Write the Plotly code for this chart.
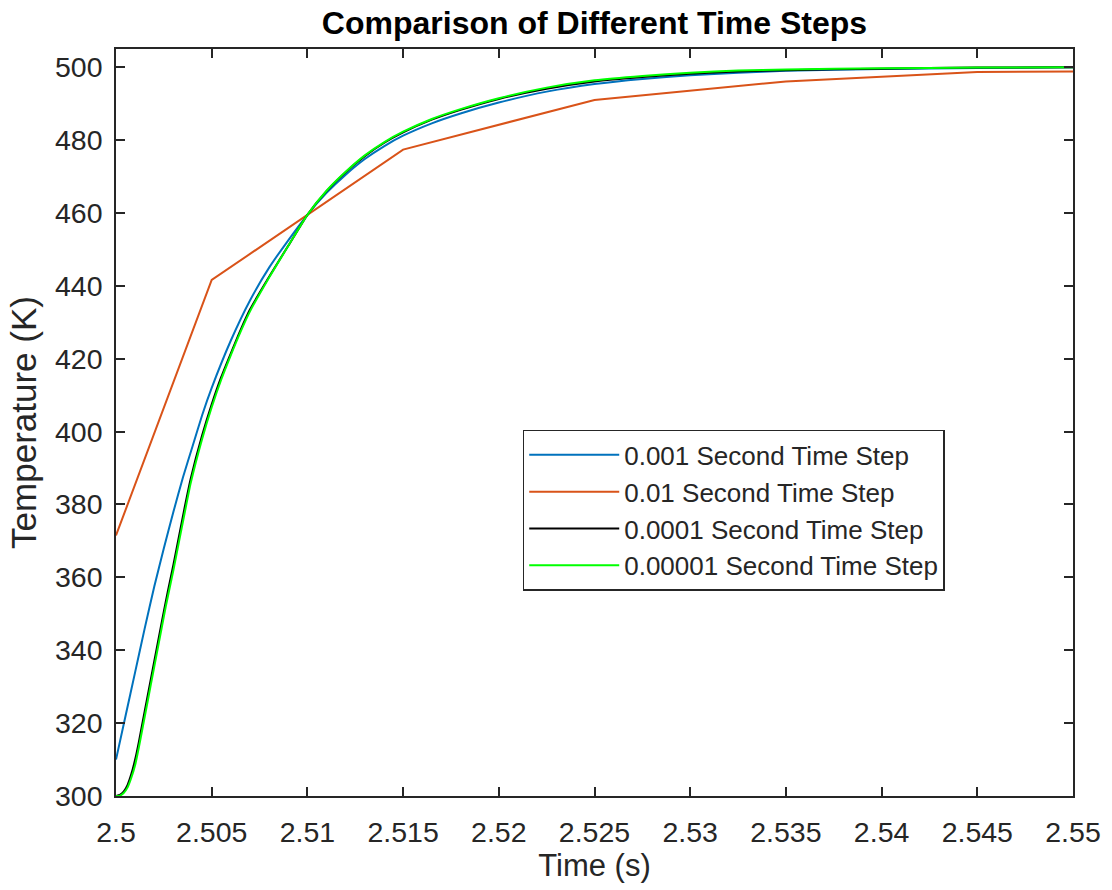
import plotly.graph_objects as go

# ---- data ----
t_001 = [2.5000, 2.5005, 2.5010, 2.5015, 2.5020, 2.5025, 2.5030, 2.5035, 2.5040, 2.5045,
         2.5050, 2.5060, 2.5070, 2.5080, 2.5090, 2.5100, 2.5110, 2.5120, 2.5130, 2.5140,
         2.5150, 2.5165, 2.5180, 2.5200, 2.5225, 2.5250, 2.5275, 2.5300, 2.5325, 2.5350,
         2.5400, 2.5450, 2.5500]
T_001 = [310.0, 322.0, 334.0, 346.0, 357.5, 368.0, 378.0, 387.5, 396.0, 404.5,
         412.0, 425.0, 436.0, 445.0, 452.5, 459.5, 465.5, 470.5, 474.8, 478.3,
         481.2, 484.6, 487.3, 490.3, 493.3, 495.4, 496.8, 497.8, 498.5, 499.0,
         499.5, 499.8, 500.0]

t_01 = [2.500, 2.505, 2.515, 2.525, 2.535, 2.545, 2.550]
T_01 = [371.5, 441.6, 477.4, 491.0, 496.1, 498.7, 498.8]

t_0001 = [2.5000, 2.5002, 2.5004, 2.5006, 2.5008, 2.5010, 2.5012, 2.5014, 2.5016, 2.5018,
          2.5020, 2.5022, 2.5024, 2.5026, 2.5028, 2.5030, 2.5033, 2.5036, 2.5039, 2.5045,
          2.5050, 2.5055, 2.5060, 2.5065, 2.5070, 2.5080, 2.5090, 2.5100, 2.5110, 2.5120,
          2.5130, 2.5140, 2.5150, 2.5165, 2.5180, 2.5200, 2.5225, 2.5250, 2.5275, 2.5300,
          2.5325, 2.5350, 2.5400, 2.5450, 2.5500]
T_0001 = [300.0, 300.3, 301.2, 303.0, 306.0, 310.0, 315.0, 320.5, 326.0, 331.5,
          337.0, 342.5, 348.0, 353.3, 358.5, 363.5, 371.5, 379.5, 387.0, 399.0,
          407.5, 415.0, 421.5, 427.8, 433.5, 442.5, 451.0, 459.5, 466.0, 471.2,
          475.6, 479.2, 482.1, 485.6, 488.3, 491.3, 494.1, 496.1, 497.3, 498.2,
          498.8, 499.2, 499.6, 499.9, 500.0]

t_00001 = [2.5000, 2.5002, 2.5004, 2.5006, 2.5008, 2.5010, 2.5012, 2.5014, 2.5016, 2.5018,
           2.5020, 2.5022, 2.5024, 2.5026, 2.5028, 2.5030, 2.5033, 2.5036, 2.5039, 2.5045,
           2.5050, 2.5055, 2.5060, 2.5065, 2.5070, 2.5080, 2.5090, 2.5100, 2.5110, 2.5120,
           2.5130, 2.5140, 2.5150, 2.5165, 2.5180, 2.5200, 2.5225, 2.5250, 2.5275, 2.5300,
           2.5325, 2.5350, 2.5400, 2.5450, 2.5500]
T_00001 = [300.0, 300.1, 300.8, 302.3, 305.0, 308.5, 313.5, 319.0, 324.5, 330.0,
           335.5, 341.0, 346.5, 352.0, 357.0, 362.0, 370.0, 378.0, 385.8, 398.0,
           406.7, 414.3, 421.0, 427.3, 433.0, 442.3, 451.0, 459.5, 466.1, 471.3,
           475.8, 479.4, 482.3, 485.8, 488.5, 491.5, 494.4, 496.4, 497.6, 498.5,
           499.1, 499.4, 499.7, 499.9, 500.0]

series = [
    ("0.001 Second Time Step", t_001, T_001, "#0072BD", "spline"),
    ("0.01 Second Time Step", t_01, T_01, "#D95319", "linear"),
    ("0.0001 Second Time Step", t_0001, T_0001, "#000000", "spline"),
    ("0.00001 Second Time Step", t_00001, T_00001, "#00FF00", "spline"),
]

x_ticks = [2.5, 2.505, 2.51, 2.515, 2.52, 2.525, 2.53, 2.535, 2.54, 2.545, 2.55]
x_ticklabels = ["2.5", "2.505", "2.51", "2.515", "2.52", "2.525", "2.53", "2.535", "2.54", "2.545", "2.55"]
y_ticks = [300, 320, 340, 360, 380, 400, 420, 440, 460, 480, 500]

FONT = "Liberation Sans, Arial, Helvetica, sans-serif"
AX = "#262626"

fig = go.Figure()
for name, xs, ys, col, shape in series:
    fig.add_trace(go.Scatter(x=xs, y=ys, mode="lines", name=name,
                             line=dict(color=col, width=2, shape=shape, smoothing=0.5)))

axis_common = dict(showgrid=False, zeroline=False, showline=True, linecolor=AX, linewidth=1.5,
                   mirror="ticks", ticks="inside", ticklen=9, tickwidth=1.5, tickcolor=AX,
                   tickfont=dict(family=FONT, size=28.5, color=AX))

fig.update_xaxes(range=[2.5, 2.55], tickvals=x_ticks, ticktext=x_ticklabels,
                 ticklabelstandoff=10,
                 title=dict(text="Time (s)", font=dict(family=FONT, size=31, color=AX), standoff=6),
                 **axis_common)
fig.update_yaxes(range=[300, 505], tickvals=y_ticks, ticklabelstandoff=6,
                 title=dict(text="Temperature (K)", font=dict(family=FONT, size=35, color=AX), standoff=8),
                 **axis_common)

fig.update_layout(
    width=1112, height=890,
    margin=dict(l=116, r=39, t=49, b=94),
    paper_bgcolor="white", plot_bgcolor="white",
    title=dict(text="<b>Comparison of Different Time Steps</b>", x=0.5, xanchor="center",
               xref="paper", y=1 - 23 / 890, yanchor="middle",
               font=dict(family=FONT, size=32, color="#000000")),
    legend=dict(x=0.425, y=0.49, xanchor="left", yanchor="top",
                bgcolor="white", bordercolor=AX, borderwidth=1.5,
                font=dict(family=FONT, size=26, color=AX), itemwidth=90,
                tracegroupgap=0),
    showlegend=True,
)

# remove the browser's default 8px body margin so the figure fills the window exactly
fig.write_html("out.html", config={"displayModeBar": False},
               post_script="document.body.style.margin='0px';")
